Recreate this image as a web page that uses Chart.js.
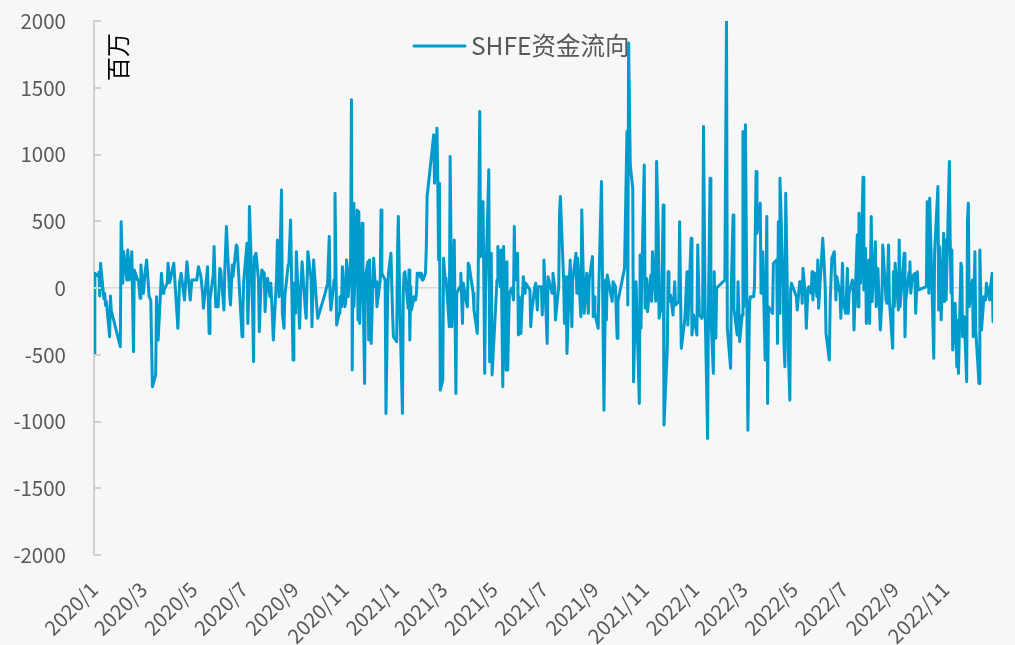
<!DOCTYPE html>
<html>
<head>
<meta charset="utf-8">
<script src="https://cdn.jsdelivr.net/npm/chart.js@4.4.0/dist/chart.umd.min.js"></script>
<style>
  html, body { margin: 0; padding: 0; background: #f7f7f7; }
  #wrap { width: 1015px; height: 645px; position: relative; }
</style>
</head>
<body>
<div id="wrap"><canvas id="c"></canvas></div>
<script>
// 每月资金流向（百万），按月份顺序，每月的数值依次落在当月交易日上
const flow2020 = [
  [-500, 110, 90, 120, -60, 185, -80, -40, -130, -100, -365, -60, -170],
  [-440, 497, 35, 272, 60, 285, 60, 272, -477, 135, 60, 60, -77, 172],
  [-40, 110, 210, -65, -90, -740, -650, -65, -390, 110, -40, -15, 35],
  [185, 40, 185, -302, 35, 110, -90, 197, -90, 60],
  [60, 160, 85, -40, -152, 85, 160, -340, -90, 100, 310, -140],
  [-140, 147, 135, -165, 122, 460, -65, -127, 172, 85, 322, 310, -365],
  [-190, 47, 335, -265, -65, 610, -190, -552, 235, 260, 60, -327, 35, 135, 110, -177, 60, 72],
  [-65, 35, -227, -390, 85, 360, -65, 735, -190, -302, -65, 172, 185, 510, -540],
  [35, -190, 272, -302, -65, 197, -165, -227, 272, 60, -290, 210, -65, -227],
  [-40, 35, 385, -65, -165, 60, 710, -277, -190, -65, -140, 160],
  [-140, -115, 210, -65, 222, 1410, -615, 635, -140, 585, -240, 572, -265, 485, 60, -715, 85, 197],
  [-390, 210, -415, 222, 10, 47, -140, 60, 585, 110, 60, -940, -65, 110, 260, -190, -365]
];
const flow2021 = [
  [-402, 260, 535, -190, -940, -40, 110, 122, -152, 135, -390, 10, -165, -65, -90, -40, 110],
  [110, 80, 110, 60, 60, 110, 300, 685, 1147, 785, 1197, 785, 210, 785, -765],
  [-690, 222, 60, 72, -290, 985, -290, 360, -790, -40, 10, 110, -265, 35, -115, -140],
  [185, 172, -40, -165, -340, 10, 1322, 235, 647, -640, -40, 885, -552, 260, -652],
  [60, 310, 10, 285, -740, 310, -615, 197, -615, -290, -40, 0, -90, 460, 60, 260],
  [-352, -65, -340, 85, -40, 35, -15, -290, -190, 10, 35, -165, 10, 10, -202],
  [10, 210, -415, 85, 35, -40, 110, 10, -240, 10, 560, 685, 60, -265, 85, -490],
  [60, 210, -290, 60, 260, -40, 222, -215, 585, 60, -190, 110, -190, 60, 235, -215],
  [-65, -190, -302, 60, 60, 797, -915, 60, -240, 97, -100, 47, 10, -377, -100],
  [147, 1172, -127, 1835, 922, 747, -702, -427, -352, 47, -865, 247, -302, 72],
  [922, -152, 72, -177, 97, -100, 272, -100, 947, 447, -227, -127, 622, -1027, -450, 122],
  [-102, -52, -202, 47, -127, -102, 497, -452, -252, -152, 122, -277, 372, -352, -202]
];
const flow2022 = [
  [-352, 322, -202, -227, -202, 1210, -152, -1127, -202, 822, -202, -640, 122, -377, 0],
  [60, 2000, -302, -602, 47, 547, -152, -352, 47, -402, -202],
  [1172, -140, 1222, -1065, -115, -65, -65, 10, 872, 410, 635, -40, 272, -540, 535, -865],
  [-140, -190, 185, 210, -415, 497, -190, 822, -15, -440, -590, 710, -440, -840, -15, 35],
  [-65, -165, 47, 47, -115, 147, -65, -302, -15, 10, -40, 122, -90, 110, -65, 210],
  [-152, 372, 260, 10, -340, -540, -115, 222, 272, -90, 85, -40, -227, 185],
  [-115, -190, 147, -190, -40, 60, 10, -315, 397, -140, 560, 35, 830, -15, 297, -265],
  [210, -265, 535, -102, 347, -140, 147, -315, -90, 322, -90, -115, 322, -90, -452, 122],
  [-140, 185, -165, 360, -140, 260, -365, -90, 122, 197, -40, 85, 110, -190, 122, -15],
  [10, 647, -40, 672, -40, -527, 260, 760, -165, 310, -240, 410],
  [-102, 360, -90, 947, 335, -40, 285, -465, -115, -590, -240, -640, 185, 160, -365, -215, -702, 510, 635],
  [-140, 60, -365, 272, -315, -715, 285, -315, -65, -90, 35, -90, 10, 110, -252]
];
const years = [2020, 2021, 2022];

// 休市日
const holidays = [
  ['2020-01-01', '2020-01-01'], ['2020-01-24', '2020-02-02'], ['2020-04-06', '2020-04-06'],
  ['2020-05-01', '2020-05-05'], ['2020-06-25', '2020-06-26'], ['2020-10-01', '2020-10-08'],
  ['2021-01-01', '2021-01-01'], ['2021-02-11', '2021-02-17'], ['2021-04-05', '2021-04-05'],
  ['2021-05-03', '2021-05-05'], ['2021-06-14', '2021-06-14'], ['2021-09-20', '2021-09-21'],
  ['2021-10-01', '2021-10-07'], ['2022-01-03', '2022-01-03'], ['2022-01-31', '2022-02-04'],
  ['2022-04-04', '2022-04-05'], ['2022-05-02', '2022-05-04'], ['2022-06-03', '2022-06-03'],
  ['2022-09-12', '2022-09-12'], ['2022-10-03', '2022-10-07']
];

const tickLabels = ['2020/1', '2020/3', '2020/5', '2020/7', '2020/9', '2020/11',
  '2021/1', '2021/3', '2021/5', '2021/7', '2021/9', '2021/11',
  '2022/1', '2022/3', '2022/5', '2022/7', '2022/9', '2022/11'];

const seriesName = 'SHFE资金流向';
const unitLabel = '百万';
const lineColor = '#009bcd';
const textColor = '#595959';
const fontFamily = '"Noto Sans CJK SC", "Noto Sans", sans-serif';

const DAY = 86400000;
const base = Date.UTC(2020, 0, 1);
const dayOf = (y, m, d) => (Date.UTC(y, m - 1, d) - base) / DAY;
const parseDay = s => { const p = s.split('-').map(Number); return dayOf(p[0], p[1], p[2]); };
const holidayRanges = holidays.map(([a, b]) => [parseDay(a), parseDay(b)]);

function tradingDays(y, m) {
    const out = [];
    const n = new Date(Date.UTC(y, m, 0)).getUTCDate();
    for (let d = 1; d <= n; d++) {
        const wd = new Date(Date.UTC(y, m - 1, d)).getUTCDay();
        const t = dayOf(y, m, d);
        if (wd === 0 || wd === 6) continue;
        if (holidayRanges.some(([a, b]) => t >= a && t <= b)) continue;
        out.push(t);
    }
    return out;
}

const points = [];
[flow2020, flow2021, flow2022].forEach((months, yi) => {
    months.forEach((vals, mi) => {
        const days = tradingDays(years[yi], mi + 1);
        vals.forEach((v, i) => {
            const k = vals.length > 1 ? Math.round(i * (days.length - 1) / (vals.length - 1)) : 0;
            points.push({ x: days[k], y: v });
        });
    });
});

const tickDays = tickLabels.map(s => { const p = s.split('/').map(Number); return dayOf(p[0], p[1], 2); });

const overlay = {
    id: 'overlay',
    afterDraw(chart) {
        const ctx = chart.ctx;
        const y = chart.scales.y;
        const left = chart.chartArea.left;
        ctx.save();
        // 纵轴刻度线（内侧）
        ctx.strokeStyle = '#d0d0d0';
        ctx.lineWidth = 2;
        y.ticks.forEach(t => {
            const py = Math.round(y.getPixelForValue(t.value));
            ctx.beginPath();
            ctx.moveTo(left, py);
            ctx.lineTo(left + 7, py);
            ctx.stroke();
        });
        // 单位
        ctx.fillStyle = '#000';
        ctx.font = '24px ' + fontFamily;
        ctx.textAlign = 'center';
        ctx.textBaseline = 'middle';
        ctx.translate(118, 57);
        ctx.rotate(-Math.PI / 2);
        ctx.fillText(unitLabel, 0, 0);
        ctx.restore();

        // 图例
        ctx.save();
        ctx.strokeStyle = lineColor;
        ctx.lineWidth = 3;
        ctx.lineCap = 'round';
        ctx.beginPath();
        ctx.moveTo(414, 46);
        ctx.lineTo(465, 46);
        ctx.stroke();
        ctx.fillStyle = textColor;
        ctx.font = '24.5px ' + fontFamily;
        ctx.textAlign = 'left';
        ctx.textBaseline = 'middle';
        ctx.fillText(seriesName, 471, 46);
        ctx.restore();
    }
};

new Chart(document.getElementById('c'), {
    type: 'line',
    data: {
        datasets: [{
            label: seriesName,
            data: points,
            borderColor: lineColor,
            borderWidth: 3,
            pointRadius: 0,
            tension: 0,
            borderJoinStyle: 'round',
            borderCapStyle: 'round'
        }]
    },
    options: {
        responsive: true,
        maintainAspectRatio: false,
        animation: false,
        layout: { padding: { top: 21, right: 22, left: 0, bottom: 0 } },
        plugins: { legend: { display: false }, tooltip: { enabled: false } },
        scales: {
            x: {
                type: 'linear',
                min: 1,
                max: 1094,
                afterBuildTicks: s => { s.ticks = tickDays.map(v => ({ value: v })); },
                afterFit: s => { s.height = 90; },
                grid: { display: false },
                border: { display: false },
                ticks: {
                    autoSkip: false,
                    minRotation: 45,
                    maxRotation: 45,
                    padding: 14,
                    color: textColor,
                    font: { family: fontFamily, size: 20.5 },
                    callback: (v) => tickLabels[tickDays.indexOf(v)]
                }
            },
            y: {
                min: -2000,
                max: 2000,
                afterFit: s => { s.width = 94; s.paddingTop = 8; s.paddingBottom = 8; },
                ticks: {
                    stepSize: 500,
                    padding: 28,
                    color: textColor,
                    font: { family: fontFamily, size: 20.5 },
                    callback: v => String(v)
                },
                grid: {
                    drawTicks: false,
                    color: c => (c.tick && c.tick.value === 0) ? '#d9d9d9' : 'rgba(0,0,0,0)',
                    lineWidth: 1.5
                },
                border: { display: true, color: '#d0d0d0', width: 2 }
            }
        }
    },
    plugins: [overlay]
});
</script>
</body>
</html>
